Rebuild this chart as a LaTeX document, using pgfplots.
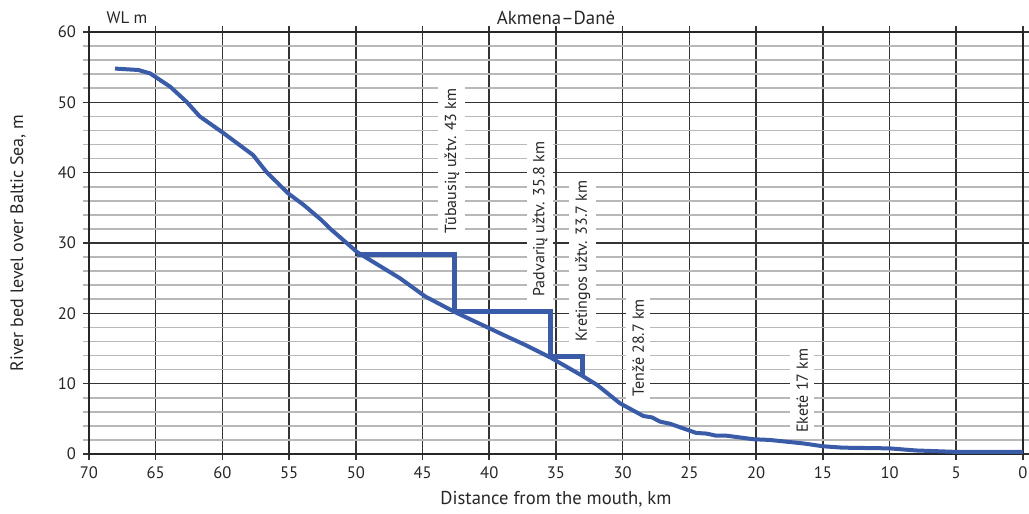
\documentclass[border=0pt]{standalone}
\usepackage{pgfplots}
\pgfplotsset{compat=1.18}
\usepackage{fontspec}
\setmainfont{PT Sans}
\definecolor{prof}{HTML}{3A5CA8}
\begin{document}
\begin{tikzpicture}
\useasboundingbox (-44.5pt,-30pt) rectangle (470pt,227pt);
\begin{axis}[
 at={(0,0)}, anchor=south west,
 scale only axis, width=467pt, height=211pt,
 x dir=reverse, xmin=0, xmax=70, ymin=0, ymax=60,
 xtick={0,5,...,70}, ytick={0,10,...,60},
 minor y tick num=4,
 grid=both,
 major grid style={draw=black!80, line width=0.8pt},
 minor grid style={draw=black!28, line width=0.8pt},
 tick align=outside, major tick length=3pt, minor tick length=3pt,
 major tick style={black!80, line width=0.8pt},
 minor tick style={black!28, line width=0.8pt},
 axis line style={black!85, line width=0.8pt},
 ticklabel style={font=\fontsize{8.3}{9}\selectfont, text=black!85},
 /pgf/number format/assume math mode=true,
 xlabel={Distance from the mouth, km},
 ylabel={River bed level over Baltic Sea, m},
 xlabel style={at={(axis description cs:0.5,-0.1066)}, anchor=center, font=\fontsize{9.3}{10}\selectfont, text=black!85},
 ylabel style={at={(axis description cs:-0.076,0.5)}, anchor=center, font=\fontsize{9}{10}\selectfont, text=black!85},
 clip=false,
]
\addplot[prof, line width=2pt, line join=round] coordinates {
(68.05,54.8) (66.3,54.6) (65.4,54.1) (63.9,52.2) (62.7,50.1) (61.7,48.0)
(59.9,45.6) (57.7,42.5) (56.7,40.1) (55.1,37.1) (53.9,35.4) (52.6,33.3)
(51.9,32.0) (49.9,28.7) (46.7,25.0) (44.8,22.4) (42.6,20.2) (38.9,16.9)
(37.3,15.5) (35.4,13.7) (33.1,11.2) (31.9,9.8) (30.2,7.2) (28.45,5.4)
(27.8,5.2) (27.2,4.6) (26.45,4.3) (24.5,3.0) (23.7,2.9) (23.0,2.6)
(22.2,2.6) (20.2,2.1) (19.0,2.0) (16.45,1.5) (15.0,1.1) (13.5,0.9)
(10.0,0.8) (8.0,0.5) (5.0,0.3) (0,0.3)
};
\addplot[prof, line width=2.6pt, line join=miter] coordinates {
(49.9,28.4) (42.6,28.4) (42.6,20.3) (35.4,20.3) (35.4,13.9) (33.0,13.9) (33.0,11.0)
};
\tikzset{lab/.style={rotate=90, fill=white, inner xsep=2.5pt, inner ysep=3pt, font=\fontsize{8}{9}\selectfont, text=black!85}}
\node[lab] at (axis cs:42.8,41.7) {Tūbausių užtv. 43 km};
\node[lab] at (axis cs:36.2,33.4) {Padvarių užtv. 35.8 km};
\node[lab] at (axis cs:33.0,27.4) {Kretingos užtv. 33.7 km};
\node[lab] at (axis cs:28.85,15.1) {Tenžė 28.7 km};
\node[lab] at (axis cs:16.55,9.0) {Eketė 17 km};
\node[font=\fontsize{9.4}{10}\selectfont, text=black!85] at (axis description cs:0.5,1.033) {Akmena–Danė};
\node[font=\fontsize{8.4}{9}\selectfont, text=black!85] at (axis description cs:0.0407,1.033) {WL m};
\end{axis}
\end{tikzpicture}
\end{document}
